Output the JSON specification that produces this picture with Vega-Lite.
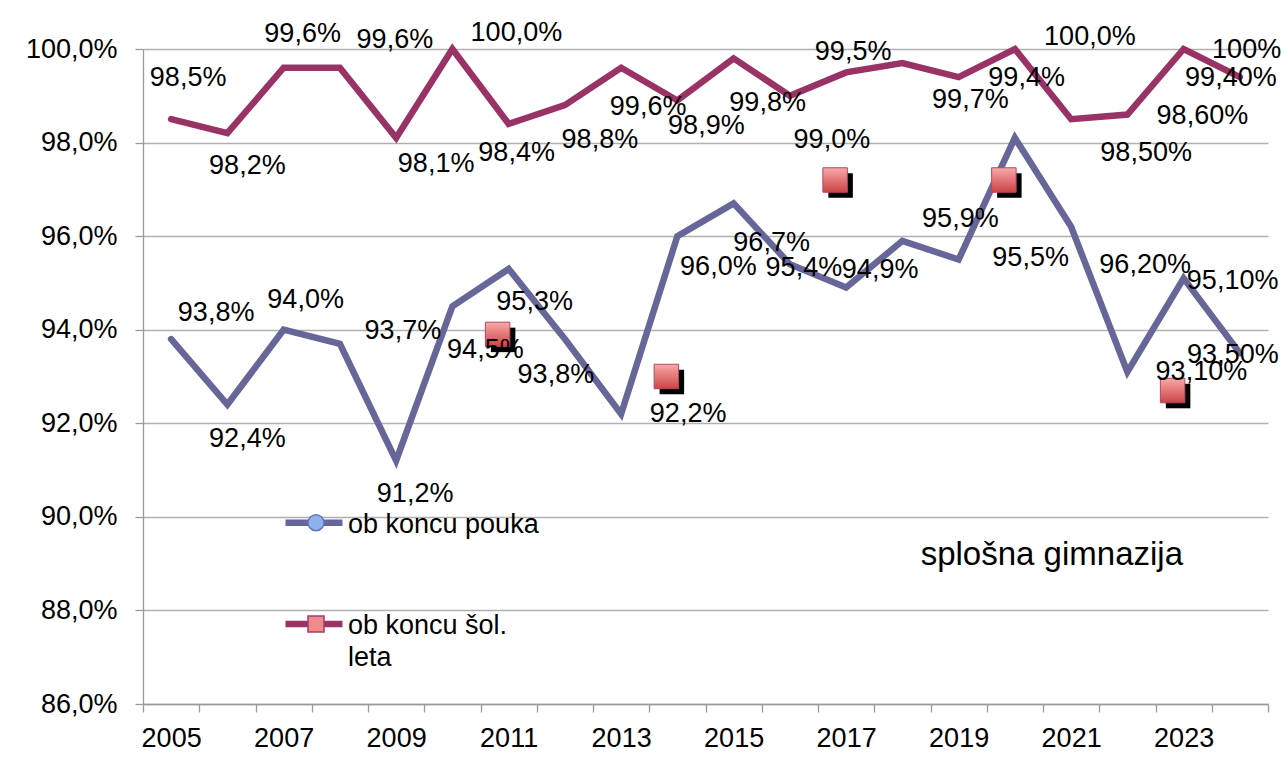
{
  "$schema": "https://vega.github.io/schema/vega-lite/v6.json",
  "width": 1125,
  "height": 655,
  "autosize": {"type": "none"},
  "padding": {"left": 143, "top": 49, "right": 16, "bottom": 77},
  "background": "white",
  "config": {
    "view": {"stroke": null},
    "font": "Liberation Sans",
    "axis": {
      "labelFont": "Liberation Sans",
      "labelFontSize": 27,
      "labelColor": "#000000",
      "domainColor": "#9a9a9a",
      "domainWidth": 1.3,
      "tickColor": "#9a9a9a",
      "tickWidth": 1.3,
      "tickSize": 8,
      "gridColor": "#b0b0b0",
      "gridWidth": 1.3,
      "title": null
    }
  },
  "title": {
    "text": "splošna gimnazija",
    "orient": "top",
    "anchor": "end",
    "frame": "group",
    "offset": 0,
    "dx": -85,
    "dy": 579,
    "font": "Liberation Sans",
    "fontSize": 33,
    "fontWeight": "normal",
    "color": "#000000",
    "baseline": "alphabetic"
  },
  "datasets": {
    "main": [
      {"year": 2005, "series": "ob koncu pouka", "value": 93.8},
      {"year": 2006, "series": "ob koncu pouka", "value": 92.4},
      {"year": 2007, "series": "ob koncu pouka", "value": 94.0},
      {"year": 2008, "series": "ob koncu pouka", "value": 93.7},
      {"year": 2009, "series": "ob koncu pouka", "value": 91.2},
      {"year": 2010, "series": "ob koncu pouka", "value": 94.5},
      {"year": 2011, "series": "ob koncu pouka", "value": 95.3},
      {"year": 2012, "series": "ob koncu pouka", "value": 93.8},
      {"year": 2013, "series": "ob koncu pouka", "value": 92.2},
      {"year": 2014, "series": "ob koncu pouka", "value": 96.0},
      {"year": 2015, "series": "ob koncu pouka", "value": 96.7},
      {"year": 2016, "series": "ob koncu pouka", "value": 95.4},
      {"year": 2017, "series": "ob koncu pouka", "value": 94.9},
      {"year": 2018, "series": "ob koncu pouka", "value": 95.9},
      {"year": 2019, "series": "ob koncu pouka", "value": 95.5},
      {"year": 2020, "series": "ob koncu pouka", "value": 98.1},
      {"year": 2021, "series": "ob koncu pouka", "value": 96.2},
      {"year": 2022, "series": "ob koncu pouka", "value": 93.1},
      {"year": 2023, "series": "ob koncu pouka", "value": 95.1},
      {"year": 2024, "series": "ob koncu pouka", "value": 93.5},
      {"year": 2005, "series": "ob koncu šol. leta", "value": 98.5},
      {"year": 2006, "series": "ob koncu šol. leta", "value": 98.2},
      {"year": 2007, "series": "ob koncu šol. leta", "value": 99.6},
      {"year": 2008, "series": "ob koncu šol. leta", "value": 99.6},
      {"year": 2009, "series": "ob koncu šol. leta", "value": 98.1},
      {"year": 2010, "series": "ob koncu šol. leta", "value": 100.0},
      {"year": 2011, "series": "ob koncu šol. leta", "value": 98.4},
      {"year": 2012, "series": "ob koncu šol. leta", "value": 98.8},
      {"year": 2013, "series": "ob koncu šol. leta", "value": 99.6},
      {"year": 2014, "series": "ob koncu šol. leta", "value": 98.9},
      {"year": 2015, "series": "ob koncu šol. leta", "value": 99.8},
      {"year": 2016, "series": "ob koncu šol. leta", "value": 99.0},
      {"year": 2017, "series": "ob koncu šol. leta", "value": 99.5},
      {"year": 2018, "series": "ob koncu šol. leta", "value": 99.7},
      {"year": 2019, "series": "ob koncu šol. leta", "value": 99.4},
      {"year": 2020, "series": "ob koncu šol. leta", "value": 100.0},
      {"year": 2021, "series": "ob koncu šol. leta", "value": 98.5},
      {"year": 2022, "series": "ob koncu šol. leta", "value": 98.6},
      {"year": 2023, "series": "ob koncu šol. leta", "value": 100.0},
      {"year": 2024, "series": "ob koncu šol. leta", "value": 99.4}
    ],
    "markers": [
      {"year": 2011, "value": 93.9},
      {"year": 2014, "value": 93.0},
      {"year": 2017, "value": 97.2},
      {"year": 2020, "value": 97.2},
      {"year": 2023, "value": 92.7}
    ]
  },
  "encoding": {
    "x": {
      "field": "year",
      "type": "ordinal",
      "scale": {
        "type": "band",
        "domain": [2005, 2006, 2007, 2008, 2009, 2010, 2011, 2012, 2013, 2014, 2015, 2016, 2017, 2018, 2019, 2020, 2021, 2022, 2023, 2024],
        "paddingInner": 0,
        "paddingOuter": 0
      },
      "axis": {
        "labelAngle": 0,
        "labelExpr": "datum.value % 2 == 1 ? datum.label : ''",
        "tickBand": "extent",
        "grid": false,
        "labelPadding": 13,
        "labelOverlap": false,
        "labelBaseline": "top"
      }
    },
    "y": {
      "field": "value",
      "type": "quantitative",
      "scale": {"domain": [86, 100], "nice": false, "zero": false},
      "axis": {
        "values": [86, 88, 90, 92, 94, 96, 98, 100],
        "labelExpr": "replace(format(datum.value, '.1f'), '.', ',') + '%'",
        "grid": true,
        "labelPadding": 18,
        "labelOverlap": false
      }
    }
  },
  "layer": [
    {
      "data": {"name": "main"},
      "mark": {"type": "line", "strokeWidth": 6.5, "strokeJoin": "miter", "strokeCap": "round"},
      "encoding": {
        "color": {
          "field": "series",
          "type": "nominal",
          "scale": {"domain": ["ob koncu pouka", "ob koncu šol. leta"], "range": ["#666699", "#993366"]},
          "legend": {
            "orient": "none",
            "legendX": 139,
            "legendY": 458.7,
            "title": null,
            "padding": 0,
            "symbolType": "stroke",
            "symbolSize": 3249,
            "symbolStrokeWidth": 6.5,
            "clipHeight": 30,
            "rowPadding": 71.3,
            "labelFont": "Liberation Sans",
            "labelFontSize": 27,
            "labelColor": "#000000",
            "labelLimit": 400,
            "labelOffset": 2,
            "labelBaseline": "alphabetic",
            "labelExpr": "datum.label == 'ob koncu šol. leta' ? ['ob koncu šol.', 'leta'] : datum.label",
            "encode": {"labels": {"update": {"dy": {"value": 10}, "lineHeight": {"value": 32}}}}
          }
        }
      }
    },
    {
      "data": {"name": "main"},
      "mark": {"type": "point", "filled": true, "opacity": 0},
      "encoding": {
        "shape": {
          "field": "series", "type": "nominal",
          "scale": {"range": ["circle", "square"]},
          "legend": {
            "orient": "none", "legendX": 139, "legendY": 458.7, "title": null, "padding": 0,
            "symbolSize": 256, "symbolOffset": 20.5, "symbolStrokeWidth": 1.5, "symbolOpacity": 1,
            "clipHeight": 30, "rowPadding": 71.3,
            "labelFontSize": 27, "labelOpacity": 0, "labelExpr": "''",
            "encode": {"symbols": {"update": {"opacity": {"value": 1}}}}
          }
        },
        "fill": {
          "field": "series", "type": "nominal",
          "scale": {"range": ["#8db3ea", "#ef8a8a"]},
          "legend": {
            "orient": "none", "legendX": 139, "legendY": 458.7, "title": null, "padding": 0,
            "symbolSize": 256, "symbolOffset": 20.5, "symbolStrokeWidth": 1.5, "symbolOpacity": 1,
            "clipHeight": 30, "rowPadding": 71.3,
            "labelFontSize": 27, "labelOpacity": 0, "labelExpr": "''",
            "encode": {"symbols": {"update": {"opacity": {"value": 1}}}}
          }
        },
        "stroke": {
          "field": "series", "type": "nominal",
          "scale": {"range": ["#5b79bd", "#a23b6c"]},
          "legend": {
            "orient": "none", "legendX": 139, "legendY": 458.7, "title": null, "padding": 0,
            "symbolSize": 256, "symbolOffset": 20.5, "symbolStrokeWidth": 1.5, "symbolOpacity": 1,
            "clipHeight": 30, "rowPadding": 71.3,
            "labelFontSize": 27, "labelOpacity": 0, "labelExpr": "''",
            "encode": {"symbols": {"update": {"opacity": {"value": 1}}}}
          }
        }
      }
    },
    {
      "data": {"name": "markers"},
      "mark": {
        "type": "point",
        "shape": "M -1.45 -0.55 L 0.55 -0.55 L 0.55 1.45 L -1.45 1.45 Z",
        "size": 600,
        "filled": true,
        "fill": "#000000",
        "strokeWidth": 0,
        "opacity": 1
      }
    },
    {
      "data": {"name": "markers"},
      "mark": {
        "type": "point",
        "shape": "M -1.898 -1 L 0.102 -1 L 0.102 1 L -1.898 1 Z",
        "size": 600,
        "filled": true,
        "fill": {
          "gradient": "linear", "x1": 0, "y1": 0, "x2": 0, "y2": 1,
          "stops": [{"offset": 0, "color": "#f9a8a8"}, {"offset": 1, "color": "#cd4444"}]
        },
        "stroke": "#b4456e",
        "strokeWidth": 1,
        "opacity": 1
      }
    },
    {
      "data": {"name": "main"},
      "transform": [{"filter": "!(datum.series == 'ob koncu pouka' && datum.year == 2020)"}],
      "mark": {
        "type": "text",
        "font": "Liberation Sans",
        "fontSize": 27,
        "color": "#000000",
        "align": "center",
        "baseline": "middle",
        "dx": {"expr": "datum.series == 'ob koncu pouka' ? [45, 20, 22, 63, 19, 33, 26, -9, 67, 41, 38, 14, 34, 58, 72, 0, 74, 74, 49, -7][datum.year - 2005] : [17, 20, 19, 55, 40, 64, 8, 35, 27, 29, 34, 42, 7, 68, 68, 75, 75, 75, 63, -9][datum.year - 2005]"},
        "dy": {"expr": "datum.series == 'ob koncu pouka' ? [-26, 34, -30, -13, 33, 44, 33, 36, 0, 31, 40, 4, -18, -22, -2, 0, 38, 0, 3, 2][datum.year - 2005] : [-41, 33, -34, -28, 26, -16, 29, 35, 39, 26, 45, 44, -20, 37, 1, -12, 34, 1, 1, 1][datum.year - 2005]"},
        "text": {"expr": "datum.year >= 2021 ? (datum.value == 100 ? '100%' : replace(format(datum.value, '.2f'), '.', ',') + '%') : replace(format(datum.value, '.1f'), '.', ',') + '%'"}
      }
    }
  ]
}
